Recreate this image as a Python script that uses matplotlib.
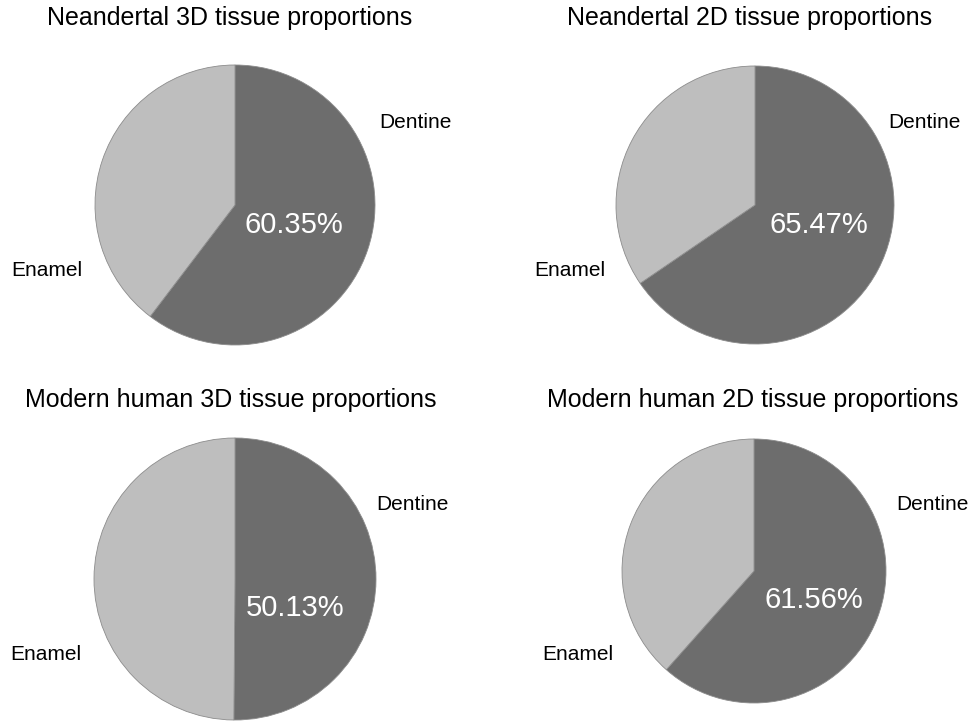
import numpy as np
import matplotlib.pyplot as plt

plt.rcParams['font.family'] = ['Liberation Sans', 'DejaVu Sans']

titles = ['Neandertal 3D tissue proportions', 'Neandertal 2D tissue proportions',
          'Modern human 3D tissue proportions', 'Modern human 2D tissue proportions']
tissues = ['Dentine', 'Enamel']
dentine_pct = [60.35, 65.47, 50.13, 61.56]
enamel_pct = [100 - v for v in dentine_pct]

colors = ['#6d6d6d', '#bebebe']

# layout in pixel units (y up): pie centre, radius, title y
centers = [(235, 517), (755, 517), (235, 143), (754, 151)]
radii = [140, 139, 141, 132]
title_pos = [(230, 704), (750, 704), (231, 322), (753, 322)]
# label offsets from pie centre
dent_off = [(180, 83), (169, 83), (177, 74), (178, 66)]
enam_off = [(-188, -66), (-185, -65), (-189, -76), (-176, -84)]
pct_off = [(59, -20), (64, -20), (60, -29), (60, -29)]

fig = plt.figure(figsize=(9.74, 7.22), dpi=100)
ax = fig.add_axes([0, 0, 1, 1])
ax.set_xlim(0, 974)
ax.set_ylim(0, 722)
ax.set_aspect('equal')
ax.set_axis_off()

for i in range(4):
    cx, cy = centers[i]
    vals = [dentine_pct[i], enamel_pct[i]]
    wedges, texts, autotexts = ax.pie(
        vals, labels=tissues, colors=colors, center=(cx, cy), radius=radii[i],
        startangle=90, counterclock=False,
        autopct=lambda p: '%.2f%%' % p,
        wedgeprops=dict(edgecolor='#8c8c8c', linewidth=0.6),
        textprops=dict(fontsize=15, color='black'), frame=True)
    texts[0].set_position((cx + dent_off[i][0], cy + dent_off[i][1]))
    texts[1].set_position((cx + enam_off[i][0], cy + enam_off[i][1]))
    for t in texts:
        t.set_ha('center')
        t.set_va('center')
    autotexts[0].set_position((cx + pct_off[i][0], cy + pct_off[i][1]))
    autotexts[0].set_color('white')
    autotexts[0].set_fontsize(21)
    autotexts[0].set_ha('center')
    autotexts[0].set_va('center')
    autotexts[1].set_visible(False)
    ax.text(title_pos[i][0], title_pos[i][1], titles[i], ha='center', va='center',
            fontsize=18)

ax.set_xlim(0, 974)
ax.set_ylim(0, 722)
ax.set_axis_off()

fig.savefig('out.png', dpi=100)
